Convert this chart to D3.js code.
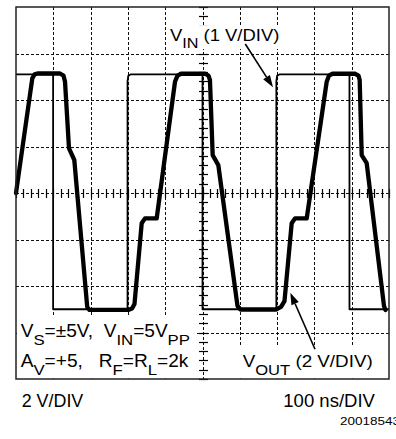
<!DOCTYPE html>
<html><head><meta charset="utf-8">
<script src="https://cdn.jsdelivr.net/npm/d3@7"></script>
<style>
html,body{margin:0;padding:0;background:#fff;}
svg{display:block;font-family:"Liberation Sans",Arial,Helvetica,sans-serif;}
text{white-space:pre;fill:#000;}
</style></head><body>
<svg id="chart" width="396" height="439"></svg>
<script>
// Horizontal: 100 ns/DIV over 10 divisions
const timeTicks = [0, 100, 200, 300, 400, 500, 600, 700, 800, 900, 1000];
// Vertical: 8 divisions, centre at 0
const divTicks = [-4, -3, -2, -1, 0, 1, 2, 3, 4];

// V_IN trace (1 V/DIV): time in ns, level in volts
const vinTime  = [0, 99.5, 99.5, 299, 299, 301, 307, 500, 500, 698, 698, 700, 706, 894, 894, 1000];
const vinVolts = [2.55, 2.55, -2.5, -2.5, 2.4, 2.52, 2.55, 2.55, -2.5, -2.5, 2.4, 2.52, 2.55, 2.55, -2.5, -2.5];

// V_OUT trace (2 V/DIV): time in ns, level in volts
const voutTime  = [0, 43.7, 49.6, 57.6, 118, 127.3, 131.4, 142.1, 156.3, 190.9,
                   197, 301, 311, 317.7, 337, 345.8, 377.2, 426.3, 433, 442.4,
                   506.7, 516, 520, 527.3, 542.4, 593.8, 601.9, 697, 710.5, 719.8,
                   739.1, 748, 779.4, 833, 839, 848.5, 908.8, 918.2, 921.4, 926.8,
                   940.2, 986.6, 990.6];
const voutVolts = [0, 4.93, 5.10, 5.14, 5.14, 5.05, 4.79, 1.92, 1.42, -4.90,
                   -5.03, -5.03, -4.97, -4.77, -1.30, -1.09, -1.09, 4.79, 5.05, 5.13,
                   5.13, 5.05, 4.86, 1.63, 1.20, -4.86, -5.01, -5.01, -4.90, -4.65,
                   -1.30, -1.09, -1.09, 4.79, 5.05, 5.13, 5.13, 5.05, 4.86, 1.63,
                   1.28, -4.86, -5.03];

const svg = d3.select("#chart");
svg.append("rect").attr("width", 396).attr("height", 439).attr("fill", "#fff");

const plot = {left: 16, right: 389, top: 7, bottom: 379};
const x = d3.scaleLinear().domain([0, 1000]).range([plot.left, plot.right]);
const yDiv = d3.scaleLinear().domain([-4, 4]).range([plot.bottom, plot.top]);
const yIn = d3.scaleLinear().domain([-4, 4]).range([plot.bottom, plot.top]);   // 1 V/DIV
const yOut = d3.scaleLinear().domain([-8, 8]).range([plot.bottom, plot.top]);  // 2 V/DIV

const ink = "#111";

// Dashed graticule
const grid = svg.append("g").attr("stroke", ink).attr("stroke-width", 1).attr("stroke-dasharray", "3,2").attr("fill", "none");
grid.selectAll("line.v").data(timeTicks.slice(1, -1)).join("line").attr("class", "v")
  .attr("x1", d => Math.round(x(d)) + 0.5).attr("x2", d => Math.round(x(d)) + 0.5)
  .attr("y1", plot.top).attr("y2", plot.bottom);
grid.selectAll("line.h").data(divTicks.slice(1, -1)).join("line").attr("class", "h")
  .attr("y1", d => Math.round(yDiv(d)) + 0.5).attr("y2", d => Math.round(yDiv(d)) + 0.5)
  .attr("x1", plot.left).attr("x2", plot.right);

// Minor ticks on the centre axes (5 per division)
const cx = Math.round(x(500)) + 0.5, cy = Math.round(yDiv(0)) + 0.5;
const minor = svg.append("g").attr("stroke", "#000").attr("stroke-width", 1.2);
minor.selectAll("line.tx").data(x.ticks(50)).join("line").attr("class", "tx")
  .attr("x1", d => Math.round(x(d)) + 0.5).attr("x2", d => Math.round(x(d)) + 0.5)
  .attr("y1", cy - 4.5).attr("y2", cy + 4.5);
minor.selectAll("line.ty").data(yDiv.ticks(40)).join("line").attr("class", "ty")
  .attr("y1", d => Math.round(yDiv(d)) + 0.5).attr("y2", d => Math.round(yDiv(d)) + 0.5)
  .attr("x1", cx - 4.5).attr("x2", cx + 4.5);

// Text with subscripts; segments are [string, isSubscript]; width sets the run length
function richText(g, px, py, segs, size, width) {
  const sub = size * 0.88, drop = size * 0.48;
  const t = g.append("text").attr("x", px).attr("y", py).attr("font-size", size);
  let low = false;
  segs.forEach(([s, isSub]) => {
    const ts = t.append("tspan").text(s);
    if (isSub) { ts.attr("font-size", sub); if (!low) ts.attr("dy", drop); low = true; }
    else if (low) { ts.attr("dy", -drop); low = false; }
  });
  if (width) t.attr("textLength", width).attr("lengthAdjust", "spacingAndGlyphs");
  return t;
}

// Label panels knock out the graticule behind them
const panels = svg.append("g").attr("fill", "#fff");
panels.append("rect").attr("x", plot.left + 1).attr("y", 317).attr("width", 180).attr("height", plot.bottom - 317 - 0.5);
panels.append("rect").attr("x", 236).attr("y", 345).attr("width", 150).attr("height", plot.bottom - 345 - 0.5);
panels.append("rect").attr("x", 166).attr("y", 26).attr("width", 117).attr("height", 23);

// Traces
const line = d3.line().x(d => x(d[0])).y(d => d[1]);
svg.append("path")
  .datum(d3.zip(vinTime, vinVolts.map(v => yIn(v))))
  .attr("d", line).attr("fill", "none").attr("stroke", "#000").attr("stroke-width", 1.8)
  .attr("stroke-linejoin", "round");
svg.append("path")
  .datum(d3.zip(voutTime, voutVolts.map(v => yOut(v))))
  .attr("d", line).attr("fill", "none").attr("stroke", "#000").attr("stroke-width", 4.3)
  .attr("stroke-linejoin", "round").attr("stroke-linecap", "round");

// Frame
svg.append("rect").attr("x", plot.left).attr("y", plot.top)
  .attr("width", plot.right - plot.left).attr("height", plot.bottom - plot.top)
  .attr("fill", "none").attr("stroke", "#222").attr("stroke-width", 1.5);

// Annotations
const notes = svg.append("g");
richText(notes, 170, 40.5, [["V"], ["IN", true], [" (1 V/DIV)"]], 16, 109.3);
richText(notes, 242.7, 367, [["V"], ["OUT", true], [" (2 V/DIV)"]], 16, 130);
richText(notes, 20.7, 336.5, [["V"], ["S", true], ["=±5V,  V"], ["IN", true], ["=5V"], ["PP", true]], 17.5, 169.3);
richText(notes, 20.7, 366.7, [["A"], ["V", true], ["=+5,   R"], ["F", true], ["=R"], ["L", true], ["=2k"]], 17.5, 167.6);

// Arrows
function arrow(g, x1, y1, x2, y2) {
  const a = Math.atan2(y2 - y1, x2 - x1), L = 12, W = 4;
  const bx = x2 - L * Math.cos(a), by = y2 - L * Math.sin(a);
  g.append("line").attr("x1", x1).attr("y1", y1).attr("x2", bx).attr("y2", by)
    .attr("stroke", "#000").attr("stroke-width", 1.6);
  g.append("path").attr("fill", "#000").attr("d",
    `M${x2},${y2}L${bx + W * Math.sin(a)},${by - W * Math.cos(a)}L${bx - W * Math.sin(a)},${by + W * Math.cos(a)}Z`);
}
arrow(notes, 245.3, 44, 273, 87.3);
arrow(notes, 315, 349.3, 290.3, 292.7);

// Scale captions under the screen
richText(svg, 21.7, 406.7, [["2 V/DIV"]], 17.7, 61.6);
richText(svg, 283.3, 406.7, [["100 ns/DIV"]], 17.7, 91.7);
richText(svg, 340, 425, [["20018543"]], 11.6, 60);
</script>
</body></html>
